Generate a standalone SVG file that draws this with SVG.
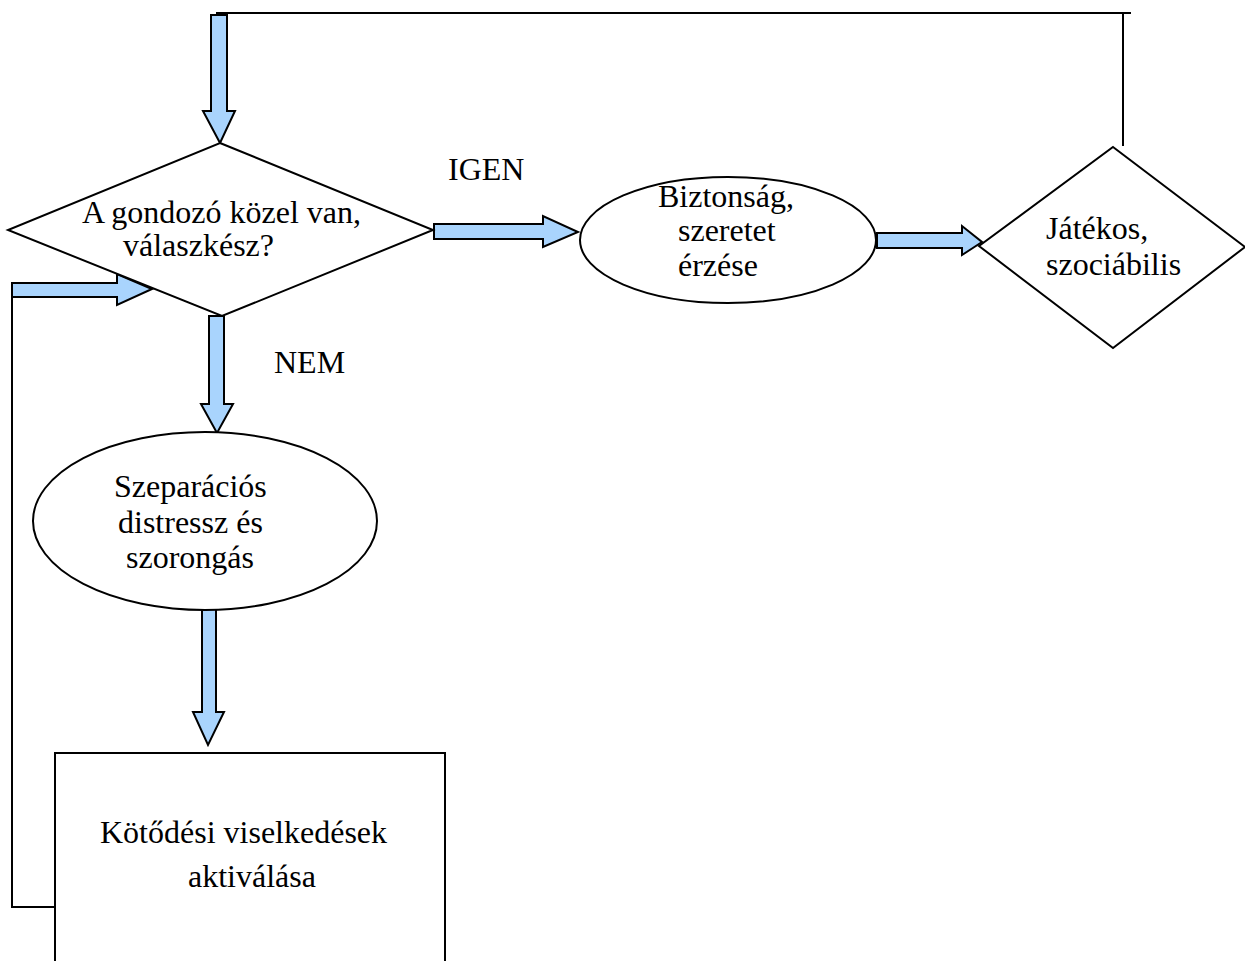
<svg xmlns="http://www.w3.org/2000/svg" width="1245" height="961" viewBox="0 0 1245 961">
<style>
.shape{fill:#ffffff;stroke:#000000;stroke-width:2}
.line{fill:none;stroke:#000000;stroke-width:2}
.arrow{fill:#a9d4fd;stroke:#000000;stroke-width:2;stroke-linejoin:miter}
text{font-family:"Liberation Serif","Times New Roman",serif;font-size:32px;fill:#000000}
</style>
<rect width="1245" height="961" fill="#ffffff"/>
<g id="connectors">
<polyline class="line" points="216,13 1131,13"/>
<polyline class="line" points="1123,13 1123,146"/>
<polyline class="line" points="12,297 12,907 55,907"/>
<polygon class="arrow" points="211,15 227,15 227,111 235,111 220,143 203,111 211,111"/>
<polygon class="arrow" points="12,283 117,283 117,274 152,289 117,305 117,297 12,297"/>
<polygon class="arrow" points="434,224 543,224 543,216 578,232 543,247 543,239 434,239"/>
<polygon class="arrow" points="877,233 962,233 962,226 982,242 962,255 962,248 877,248"/>
<polygon class="arrow" points="209,316 224,316 224,404 233,404 217,433 201,404 209,404"/>
<polygon class="arrow" points="202,606 216,606 216,712 224,712 208,745 193,712 202,712"/>
<text x="448" y="180">IGEN</text>
<text x="274" y="373">NEM</text>
</g>
<g id="node-decision">
<polygon class="shape" points="220,143 433,230 222,316 8,230"/>
<text x="82" y="223">A gondozó közel van,</text>
<text x="123" y="256">válaszkész?</text>
</g>
<g id="node-security">
<ellipse class="shape" cx="728" cy="240" rx="148" ry="63"/>
<text x="658" y="207">Biztonság,</text>
<text x="678" y="241">szeretet</text>
<text x="678" y="276">érzése</text>
</g>
<g id="node-playful">
<polygon class="shape" points="1113,147 1245,247 1113,348 979,246"/>
<text x="1046" y="239">Játékos,</text>
<text x="1046" y="275">szociábilis</text>
</g>
<g id="node-separation">
<ellipse class="shape" cx="205" cy="521" rx="172" ry="89"/>
<text x="114" y="497">Szeparációs</text>
<text x="118" y="533">distressz és</text>
<text x="126" y="568">szorongás</text>
</g>
<g id="node-activation">
<rect class="shape" x="55" y="753" width="390" height="240"/>
<text x="100" y="843">Kötődési viselkedések</text>
<text x="188" y="887">aktiválása</text>
</g>
</svg>
